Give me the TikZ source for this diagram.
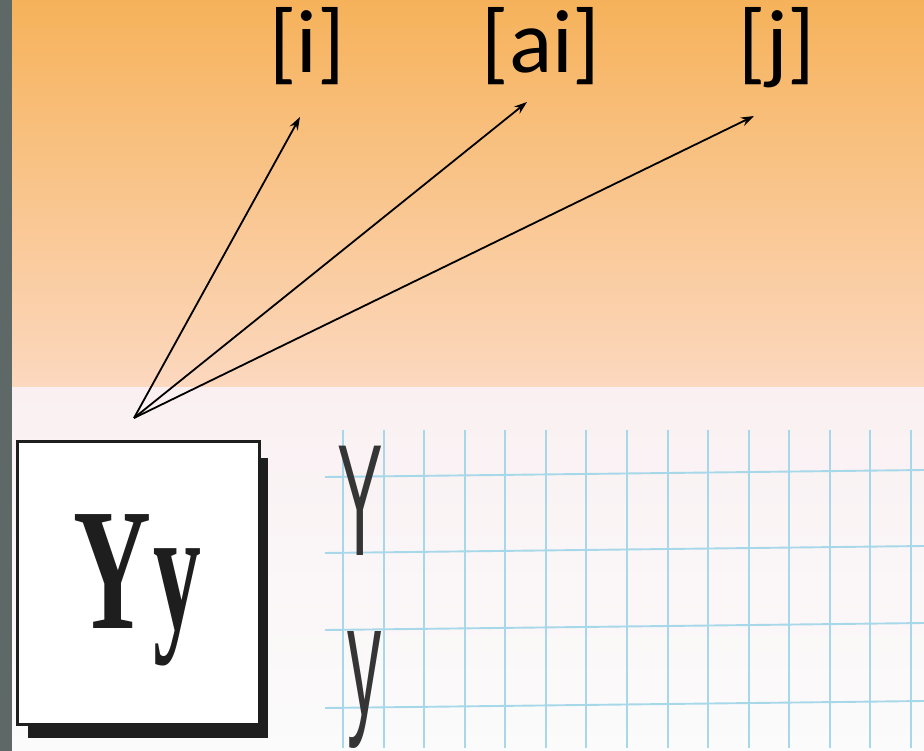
\documentclass[tikz,border=0pt]{standalone}
\usepackage{fontspec}
\setmainfont{Carlito}
\newfontfamily\serifbold{Liberation Serif}
\newfontfamily\sansfont{Liberation Sans}
\usetikzlibrary{arrows.meta}
\definecolor{orangetop}{HTML}{F6B25A}
\definecolor{orangebot}{HTML}{FCD8BF}
\definecolor{sidegray}{HTML}{5E6967}
\definecolor{papertop}{HTML}{FAF0F2}
\definecolor{paperbot}{HTML}{FBFBFB}
\definecolor{gridblue}{HTML}{A6D8EA}
\definecolor{ink}{HTML}{1E1E1E}
\begin{document}
\begin{tikzpicture}[x=1pt,y=-1pt,
  phon/.style={font=\fontsize{90}{90}\selectfont, inner sep=0pt, anchor=base},
  arrowline/.style={line width=1.8pt, -{Stealth[length=13pt,width=9pt]}},
  gridline/.style={gridblue, line width=1.9pt},
  boxletter/.style={anchor=base west, inner sep=0pt, text=ink},
  bookletter/.style={anchor=base west, inner sep=0pt, text=ink!90}]
\useasboundingbox (0,0) rectangle (924,751);
% backgrounds
\shade[top color=orangetop, bottom color=orangebot] (0,0) rectangle (924,387);
\shade[top color=papertop, bottom color=paperbot] (12,387) rectangle (924,751);
\fill[sidegray] (0,0) rectangle (12,751);
% copybook grid
\foreach \k in {0,...,14} \draw[gridline] ({343+40.57*\k},430) -- ({343+40.57*\k},748);
\foreach \yl/\yr in {477/470,553/546,630/623,708/701} \draw[gridline] (325,\yl) -- (924,\yr);
% letter box with shadow
\node[fill=ink, minimum width=240pt, minimum height=280pt, inner sep=0pt, anchor=south east] (shadow) at (268,738) {};
\node[draw=ink, line width=3.2pt, fill=white, minimum width=242pt, minimum height=283pt, inner sep=0pt, anchor=north west] (box) at (16,440) {};
\node[boxletter] (boxY) at (73,628) {\scalebox{0.62}[1]{\fontsize{174}{174}\selectfont\serifbold\bfseries Y}};
\node[boxletter] (boxy) at (153,628) {\scalebox{0.55}[1]{\fontsize{174}{174}\selectfont\serifbold\bfseries y}};
% copybook letters
\node[bookletter] (bigY) at (337,555) {\scalebox{0.43}[1]{\fontsize{159}{159}\selectfont\sansfont Y}};
\node[bookletter] (smally) at (347,715) {\scalebox{0.43}[1]{\fontsize{159}{159}\selectfont\sansfont y}};
% phonetic labels
\node[phon] (li) at (307,73) {[i]};
\node[phon] (lai) at (541,73) {[ai]};
\node[phon] (lj) at (777,73) {[j]};
% arrows
\coordinate (o) at (134,418);
\coordinate (ti) at (300,117);
\coordinate (tai) at (527,102);
\coordinate (tj) at (754,116);
\draw[arrowline] (o) -- (ti);
\draw[arrowline] (o) -- (tai);
\draw[arrowline] (o) -- (tj);
\end{tikzpicture}
\end{document}
